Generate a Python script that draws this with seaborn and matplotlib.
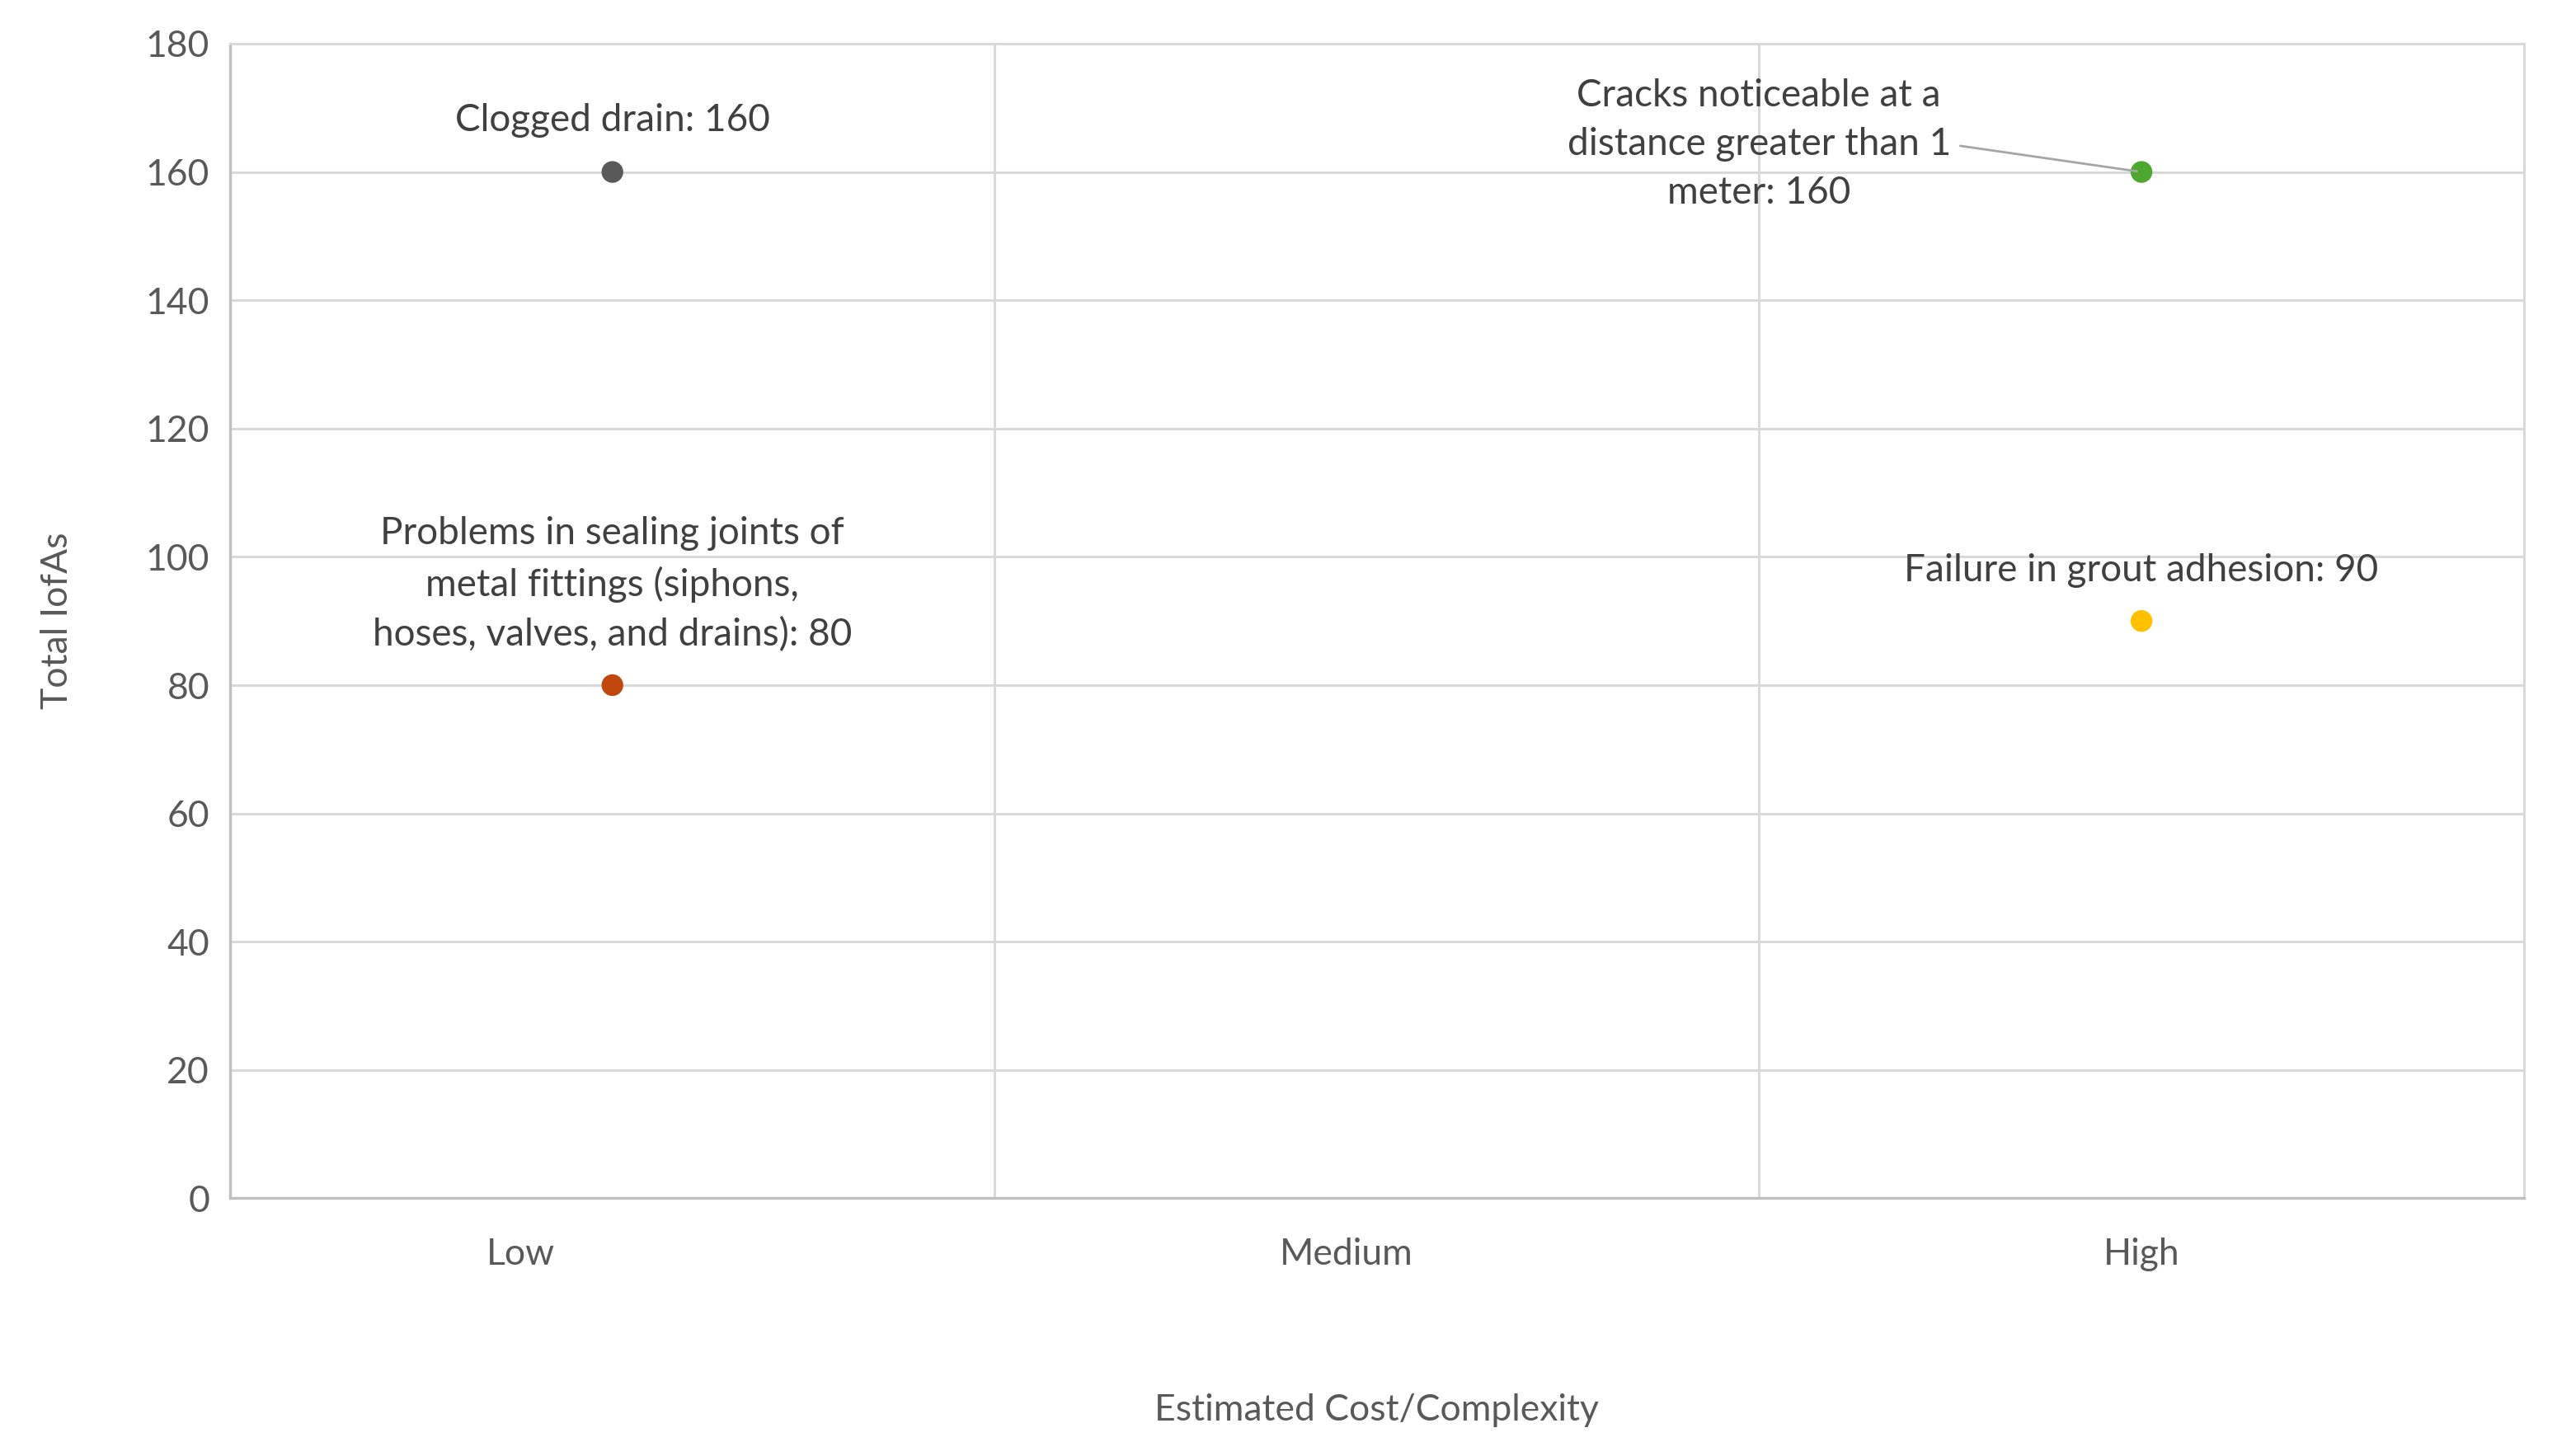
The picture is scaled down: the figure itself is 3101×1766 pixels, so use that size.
import numpy as np
import pandas as pd
import seaborn as sns
import matplotlib.pyplot as plt

sns.set_theme(style="white")
plt.rcParams['font.family'] = ['Lato', 'DejaVu Sans']

# data
issues = ["Clogged drain: 160",
          "Problems in sealing joints of\nmetal fittings (siphons,\nhoses, valves, and drains): 80",
          "Cracks noticeable at a\ndistance greater than 1\nmeter: 160",
          "Failure in grout adhesion: 90"]
cost_x = [0.5, 0.5, 2.5, 2.5]
total_iofas = [160, 80, 160, 90]
colors = ["#595959", "#C0480F", "#4EA72E", "#FFC000"]
x_labels = ["Low", "Medium", "High"]
x_label_pos = [0.38, 1.46, 2.5]

df = pd.DataFrame({"issue": issues, "cost": cost_x, "iofas": total_iofas})

fig = plt.figure(figsize=(31.01, 17.66), dpi=100)
ax = fig.add_axes([0.090, 0.177, 0.897, 0.793])

grey = "#595959"
grid_c = "#d9d9d9"

sns.scatterplot(data=df, x="cost", y="iofas", hue="issue", palette=colors,
                s=360, edgecolor="none", legend=False, ax=ax, zorder=5)

ax.set_xlim(0, 3)
ax.set_ylim(0, 180)
ax.set_yticks(np.arange(0, 181, 20))
ax.set_xticks([0, 1, 2, 3])
ax.set_xticklabels([])
ax.set_xticks(x_label_pos, minor=True)
ax.set_xticklabels(x_labels, minor=True)
ax.grid(True, which="major", color=grid_c, linewidth=2.2)
ax.set_axisbelow(True)

ax.tick_params(axis="y", which="major", labelsize=32, labelcolor=grey,
               length=6, width=2, color="#bfbfbf", pad=12)
ax.tick_params(axis="x", which="major", length=0)
ax.tick_params(axis="x", which="minor", labelsize=32, labelcolor=grey,
               length=0, pad=34)

for side in ["top", "right"]:
    ax.spines[side].set_color(grid_c)
    ax.spines[side].set_linewidth(2.2)
for side in ["left", "bottom"]:
    ax.spines[side].set_color("#bfbfbf")
    ax.spines[side].set_linewidth(2.4)

ax.set_ylabel("Total IofAs", fontsize=32, color=grey, labelpad=62)
ax.set_xlabel("Estimated Cost/Complexity", fontsize=32, color=grey, labelpad=107)

offsets = [(0, 45), (0, 88), (-334, 24), (0, 44)]
for i, (txt, xv, yv) in enumerate(zip(issues, cost_x, total_iofas)):
    arrow = None
    if i == 2:
        arrow = dict(arrowstyle="-", color="#a6a6a6", lw=2, relpos=(1, 0.5),
                     shrinkA=6, shrinkB=4)
    ax.annotate(txt, xy=(xv, yv), xytext=offsets[i], textcoords="offset points",
                ha="center", va="center", fontsize=33, color="#404040",
                linespacing=1.5, arrowprops=arrow, zorder=6)

fig.savefig("out.png", dpi=100, facecolor="white")
